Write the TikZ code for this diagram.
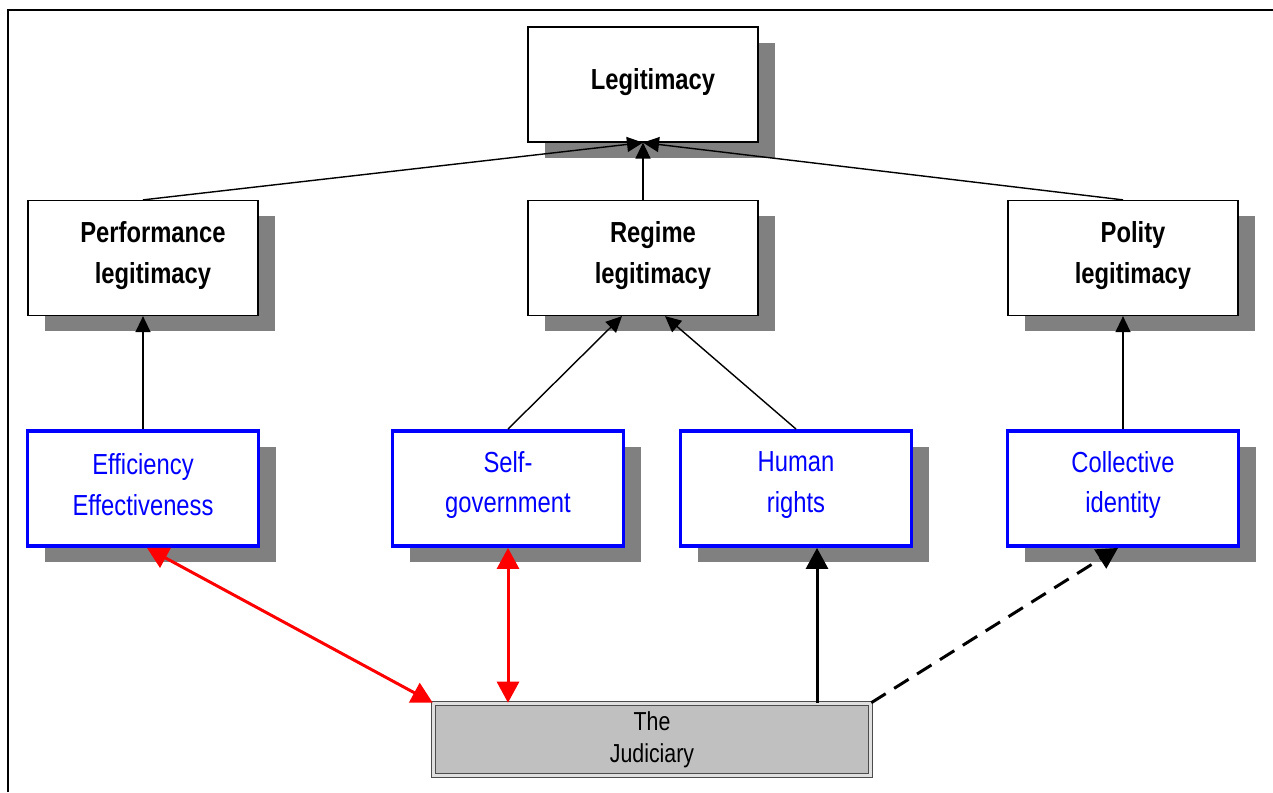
\documentclass[tikz,border=0pt]{standalone}
\usepackage{fontspec}
\setmainfont{Liberation Sans}[FakeStretch=0.82]
\usepackage{tikz}
\usetikzlibrary{positioning,shadows,arrows.meta}
\definecolor{shade}{RGB}{128,128,128}
\definecolor{judgray}{RGB}{192,192,192}
\tikzset{%
  legbox/.style={%
    draw=black,
    line width=0.7pt,
    fill=white,
    minimum width=4.6cm,
    minimum height=2.3cm,
    drop shadow={shadow xshift=0.34cm,shadow yshift=-0.32cm,fill=shade,opacity=1}
  },
  legtext/.style={%
    align=center,
    font=\fontsize{16.5}{23.3}\selectfont\bfseries,
    xshift=0.2cm,
    yshift=0.04cm
  },
  srcbox/.style={%
    legbox,
    draw=blue,
    line width=2.2pt,
    minimum width=4.62cm
  },
  srctext/.style={%
    align=center,
    text=blue,
    font=\fontsize{16.5}{23.3}\selectfont,
    yshift=0.07cm
  },
  judbox/.style={%
    draw=black!70,
    double=black!12,
    double distance=0.06cm,
    line width=0.6pt,
    fill=judgray,
    minimum width=8.75cm,
    minimum height=1.45cm,
    align=center,
    font=\fontsize{14.8}{18.2}\selectfont
  },
  ptr/.style={%
    -{Triangle[length=0.32cm,width=0.3cm]},
    line width=0.8pt
  },
  bigptr/.style={%
    -{Triangle[length=0.42cm,width=0.44cm]},
    line width=1.7pt
  },
  redptr/.style={%
    {Triangle[length=0.42cm,width=0.44cm]}-{Triangle[length=0.42cm,width=0.44cm]},
    draw=red,
    line width=1.7pt
  },
  dashptr/.style={%
    bigptr,
    dash pattern=on 0.34cm off 0.2cm
  }
}

\begin{document}
\begin{tikzpicture}
    \useasboundingbox (0,0) rectangle (25.46,15.84);
    \draw[line width=1.2pt] (0.16,0) -- (0.16,15.64) -- (25.46,15.64);

    % legitimacy levels
    \node[legbox, label={[legtext,name=legit-t]center:Legitimacy}] (legit) at (12.86,14.15) {};
    \node[legbox, label={[legtext,name=perf-t]center:{Performance\\legitimacy}}] (perf) at (2.86,10.68) {};
    \node[legbox, label={[legtext,name=regime-t]center:{Regime\\legitimacy}}] (regime) at (12.86,10.68) {};
    \node[legbox, label={[legtext,name=polity-t]center:{Polity\\legitimacy}}] (polity) at (22.46,10.68) {};

    % sources
    \node[srcbox, label={[srctext,name=eff-t]center:{Efficiency\\Effectiveness}}] (eff) at (2.86,6.07) {};
    \node[srcbox, label={[srctext,name=self-t]center:{Self-\\government}}] (self) at (10.16,6.07) {};
    \node[srcbox, label={[srctext,name=human-t]center:{Human\\rights}}] (human) at (15.92,6.07) {};
    \node[srcbox, label={[srctext,name=coll-t]center:{Collective\\identity}}] (coll) at (22.46,6.07) {};

    \node[judbox] (jud) at (13.04,1.05) {The\\Judiciary};

    \draw[ptr] (perf.north) -- (legit.south);
    \draw[ptr] (regime.north) -- (legit.south);
    \draw[ptr] (polity.north) -- (legit.south);

    \draw[ptr] (eff.north) -- (perf.south);
    \draw[ptr] (self.north) -- ([xshift=-0.42cm]regime.south);
    \draw[ptr] (human.north) -- ([xshift=0.44cm]regime.south);
    \draw[ptr] (coll.north) -- (polity.south);

    \coordinate (eff-in) at ([xshift=0.08cm]eff.south);
    \coordinate (hr-in) at ([xshift=0.42cm]human.south);
    \coordinate (coll-in) at ([xshift=-0.1cm]coll.south);
    \draw[redptr] (eff-in) -- (jud.north west);
    \draw[redptr] (self.south) -- (self.south |- jud.north);
    \draw[bigptr] (jud.north -| hr-in) -- (hr-in);
    \draw[dashptr] (jud.north east) -- (coll-in);
  \end{tikzpicture}
\end{document}
